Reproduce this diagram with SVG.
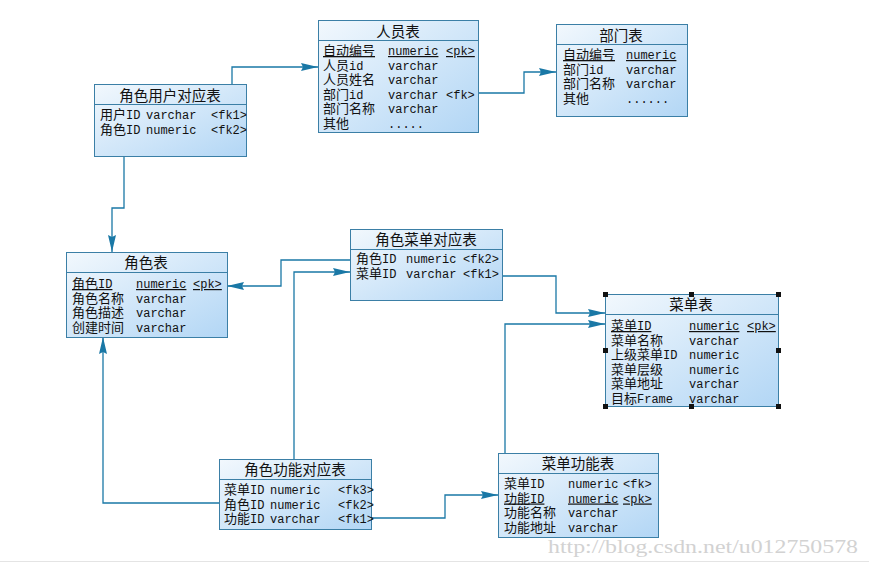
<svg xmlns="http://www.w3.org/2000/svg" width="869" height="563" viewBox="0 0 869 563">
<defs>
<linearGradient id="g" x1="0" y1="0" x2="1" y2="1">
<stop offset="0" stop-color="#f2f8fd"/>
<stop offset="1" stop-color="#b2d6f5"/>
</linearGradient>
<marker id="a" markerWidth="18" markerHeight="10" refX="17" refY="5" orient="auto" markerUnits="userSpaceOnUse">
<path d="M0,1 L17,5 L0,9 L2,5 Z" fill="#1a78a6"/>
</marker>
<style>
.box{fill:url(#g);stroke:#3b7fa6;stroke-width:1}
.div{stroke:#3b7fa6;stroke-width:1}
.t{font-family:"Noto Sans CJK SC","Liberation Sans",sans-serif;font-size:14.5px;fill:#111;text-anchor:middle}
.f{font-family:"Liberation Mono","Noto Sans CJK SC",monospace;font-size:12px;fill:#111}
.z{font-family:"Noto Sans CJK SC",sans-serif;font-size:13px}
.u{text-decoration:underline}
.c{fill:none;stroke:#1a78a6;stroke-width:1.3;marker-end:url(#a)}
.h{fill:#111}
</style>
</defs>
<rect width="869" height="563" fill="#fff"/>
<line x1="0" y1="561.5" x2="869" y2="561.5" stroke="#e4e4e4"/>

<g id="connectors">
<path class="c" d="M232,84 V67 H318"/>
<path class="c" d="M478,93 H524 V72 H556"/>
<path class="c" d="M124,156 V208 H112 V252"/>
<path class="c" d="M350,260 H281 V286 H227"/>
<path class="c" d="M294,459 V272 H350"/>
<path class="c" d="M502,276 H556 V313 H605"/>
<path class="c" d="M505,453 V324 H605"/>
<path class="c" d="M219,503 H103 V337"/>
<path class="c" d="M371,518 H445 V495 H498"/>
</g>

<g id="renyuan">
<rect class="box" x="318.5" y="20.5" width="160" height="112"/>
<line class="div" x1="318.5" y1="40.5" x2="478.5" y2="40.5"/>
<text class="t" x="398" y="37">人员表</text>
<text class="f u" x="323" y="55"><tspan class="z">自动编号</tspan></text><text class="f u" x="388" y="55">numeric</text><text class="f u" x="446" y="55">&lt;pk&gt;</text>
<text class="f" x="323" y="69.5"><tspan class="z">人员</tspan>id</text><text class="f" x="388" y="69.5">varchar</text>
<text class="f" x="323" y="84"><tspan class="z">人员姓名</tspan></text><text class="f" x="388" y="84">varchar</text>
<text class="f" x="323" y="98.5"><tspan class="z">部门</tspan>id</text><text class="f" x="388" y="98.5">varchar</text><text class="f" x="446" y="98.5">&lt;fk&gt;</text>
<text class="f" x="323" y="113"><tspan class="z">部门名称</tspan></text><text class="f" x="388" y="113">varchar</text>
<text class="f" x="323" y="127.5"><tspan class="z">其他</tspan></text><text class="f" x="388" y="127.5">.....</text>
</g>

<g id="bumen">
<rect class="box" x="556.5" y="24.5" width="131" height="92"/>
<line class="div" x1="556.5" y1="44.5" x2="687.5" y2="44.5"/>
<text class="t" x="621" y="41">部门表</text>
<text class="f u" x="563" y="59"><tspan class="z">自动编号</tspan></text><text class="f u" x="626" y="59">numeric</text>
<text class="f" x="563" y="73.5"><tspan class="z">部门</tspan>id</text><text class="f" x="626" y="73.5">varchar</text>
<text class="f" x="563" y="88"><tspan class="z">部门名称</tspan></text><text class="f" x="626" y="88">varchar</text>
<text class="f" x="563" y="102.5"><tspan class="z">其他</tspan></text><text class="f" x="626" y="102.5">......</text>
</g>

<g id="juese_yonghu">
<rect class="box" x="94.5" y="84.5" width="152" height="72"/>
<line class="div" x1="94.5" y1="104.5" x2="246.5" y2="104.5"/>
<text class="t" x="170" y="101">角色用户对应表</text>
<text class="f" x="100" y="119"><tspan class="z">用户</tspan>ID</text><text class="f" x="146" y="119">varchar</text><text class="f" x="211" y="119">&lt;fk1&gt;</text>
<text class="f" x="100" y="133.5"><tspan class="z">角色</tspan>ID</text><text class="f" x="146" y="133.5">numeric</text><text class="f" x="211" y="133.5">&lt;fk2&gt;</text>
</g>

<g id="juese">
<rect class="box" x="66.5" y="252.5" width="161" height="85"/>
<line class="div" x1="66.5" y1="272.5" x2="227.5" y2="272.5"/>
<text class="t" x="146" y="268">角色表</text>
<text class="f u" x="72" y="288"><tspan class="z">角色</tspan>ID</text><text class="f u" x="136" y="288">numeric</text><text class="f u" x="193" y="288">&lt;pk&gt;</text>
<text class="f" x="72" y="302.5"><tspan class="z">角色名称</tspan></text><text class="f" x="136" y="302.5">varchar</text>
<text class="f" x="72" y="317"><tspan class="z">角色描述</tspan></text><text class="f" x="136" y="317">varchar</text>
<text class="f" x="72" y="331.5"><tspan class="z">创建时间</tspan></text><text class="f" x="136" y="331.5">varchar</text>
</g>

<g id="juese_caidan">
<rect class="box" x="350.5" y="229.5" width="152" height="71"/>
<line class="div" x1="350.5" y1="249.5" x2="502.5" y2="249.5"/>
<text class="t" x="426" y="245">角色菜单对应表</text>
<text class="f" x="356" y="263"><tspan class="z">角色</tspan>ID</text><text class="f" x="406" y="263">numeric</text><text class="f" x="463" y="263">&lt;fk2&gt;</text>
<text class="f" x="356" y="277.5"><tspan class="z">菜单</tspan>ID</text><text class="f" x="406" y="277.5">varchar</text><text class="f" x="463" y="277.5">&lt;fk1&gt;</text>
</g>

<g id="caidan">
<rect class="box" x="605.5" y="294.5" width="173" height="112"/>
<line class="div" x1="605.5" y1="314.5" x2="778.5" y2="314.5"/>
<text class="t" x="691" y="310">菜单表</text>
<text class="f u" x="611" y="330"><tspan class="z">菜单</tspan>ID</text><text class="f u" x="689" y="330">numeric</text><text class="f u" x="747" y="330">&lt;pk&gt;</text>
<text class="f" x="611" y="344.5"><tspan class="z">菜单名称</tspan></text><text class="f" x="689" y="344.5">varchar</text>
<text class="f" x="611" y="359"><tspan class="z">上级菜单</tspan>ID</text><text class="f" x="689" y="359">numeric</text>
<text class="f" x="611" y="373.5"><tspan class="z">菜单层级</tspan></text><text class="f" x="689" y="373.5">numeric</text>
<text class="f" x="611" y="388"><tspan class="z">菜单地址</tspan></text><text class="f" x="689" y="388">varchar</text>
<text class="f" x="611" y="402.5"><tspan class="z">目标</tspan>Frame</text><text class="f" x="689" y="402.5">varchar</text>
<rect class="h" x="603" y="292" width="5" height="5"/>
<rect class="h" x="689" y="292" width="5" height="5"/>
<rect class="h" x="776" y="292" width="5" height="5"/>
<rect class="h" x="603" y="348" width="5" height="5"/>
<rect class="h" x="776" y="348" width="5" height="5"/>
<rect class="h" x="603" y="404" width="5" height="5"/>
<rect class="h" x="689" y="404" width="5" height="5"/>
<rect class="h" x="776" y="404" width="5" height="5"/>
</g>

<g id="juese_gongneng">
<rect class="box" x="219.5" y="459.5" width="152" height="70"/>
<line class="div" x1="219.5" y1="479.5" x2="371.5" y2="479.5"/>
<text class="t" x="295" y="475">角色功能对应表</text>
<text class="f" x="224" y="494"><tspan class="z">菜单</tspan>ID</text><text class="f" x="270" y="494">numeric</text><text class="f" x="338" y="494">&lt;fk3&gt;</text>
<text class="f" x="224" y="508.5"><tspan class="z">角色</tspan>ID</text><text class="f" x="270" y="508.5">numeric</text><text class="f" x="338" y="508.5">&lt;fk2&gt;</text>
<text class="f" x="224" y="523"><tspan class="z">功能</tspan>ID</text><text class="f" x="270" y="523">varchar</text><text class="f" x="338" y="523">&lt;fk1&gt;</text>
</g>

<g id="caidan_gongneng">
<rect class="box" x="498.5" y="453.5" width="160" height="84"/>
<line class="div" x1="498.5" y1="473.5" x2="658.5" y2="473.5"/>
<text class="t" x="578" y="469">菜单功能表</text>
<text class="f" x="504" y="488"><tspan class="z">菜单</tspan>ID</text><text class="f" x="568" y="488">numeric</text><text class="f" x="623" y="488">&lt;fk&gt;</text>
<text class="f u" x="504" y="502.5"><tspan class="z">功能</tspan>ID</text><text class="f u" x="568" y="502.5">numeric</text><text class="f u" x="623" y="502.5">&lt;pk&gt;</text>
<text class="f" x="504" y="517"><tspan class="z">功能名称</tspan></text><text class="f" x="568" y="517">varchar</text>
<text class="f" x="504" y="531.5"><tspan class="z">功能地址</tspan></text><text class="f" x="568" y="531.5">varchar</text>
</g>

<text x="548" y="553" font-family="Liberation Serif, serif" font-size="18" fill="#d2d2d2" textLength="310" lengthAdjust="spacingAndGlyphs">http://blog.csdn.net/u012750578</text>
</svg>
